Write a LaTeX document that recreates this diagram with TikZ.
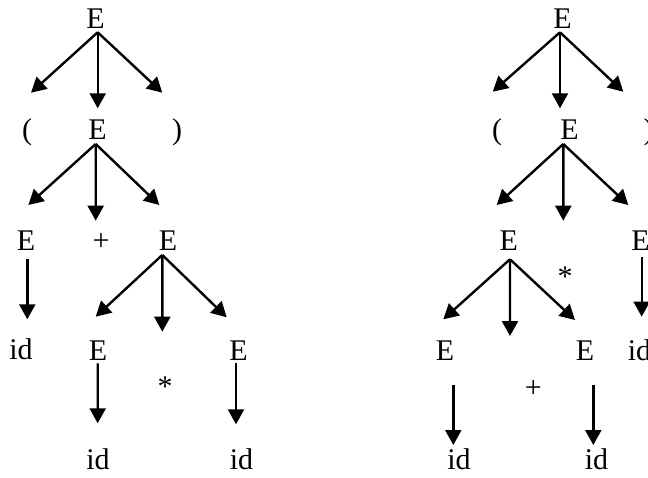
\documentclass[tikz,border=0pt]{standalone}
\usepackage{fontspec}
\setmainfont{Liberation Serif}
\usetikzlibrary{arrows.meta}
\begin{document}
\begin{tikzpicture}[x=0.5pt,y=-0.5pt,
  lbl/.style={anchor=base,inner sep=0pt,font=\fontsize{15}{18}\selectfont},
  arr/.style={-{Triangle[length=7.5pt,width=8pt]},line width=1.2pt}]
\useasboundingbox (0,0) rectangle (648,477);
\clip (0,0) rectangle (648,477);
% ---------------- left tree ----------------
\node[lbl] (L1) at (95.5,28) {E};
\node[lbl] (Lp) at (27,139) {(};
\node[lbl] (L2) at (97.5,139) {E};
\node[lbl] (Lq) at (177,139) {)};
\node[lbl] (L3a) at (26,250) {E};
\node[lbl] (Lplus) at (101,250.5) {+};
\node[lbl] (L3b) at (168,250) {E};
\node[lbl] (L4a) at (21,359.5) {id};
\node[lbl] (L4b) at (98,360) {E};
\node[lbl] (Lstar) at (165,396) {*};
\node[lbl] (L4c) at (238.5,360) {E};
\node[lbl] (L5a) at (98,469.5) {id};
\node[lbl] (L5b) at (241.5,469.5) {id};
\coordinate (t1) at (31,92.7);
\coordinate (t2) at (97.7,108.3);
\coordinate (t3) at (162.3,92.7);
\coordinate (t4) at (28.3,205);
\coordinate (t5) at (95.7,220.7);
\coordinate (t6) at (159.3,205);
\coordinate (t7) at (27.3,319.3);
\coordinate (t8) at (95.7,316.7);
\coordinate (t9) at (162.3,331.7);
\coordinate (t10) at (226.7,317.3);
\coordinate (t11) at (97.7,423.3);
\coordinate (t12) at (236,424.3);
\draw[arr] ([shift={(2.2,4.3)}]L1.base) -- (t1);
\draw[arr] ([shift={(2.2,4.3)}]L1.base) -- (t2);
\draw[arr] ([shift={(2.2,4.3)}]L1.base) -- (t3);
\draw[arr] ([shift={(-1.8,5)}]L2.base) -- (t4);
\draw[arr] ([shift={(-1.8,5)}]L2.base) -- (t5);
\draw[arr] ([shift={(-1.8,5)}]L2.base) -- (t6);
\draw[arr] ([shift={(1.3,9.3)}]L3a.base) -- (t7);
\draw[arr] ([shift={(-5.7,5)}]L3b.base) -- (t8);
\draw[arr] ([shift={(-5.7,5)}]L3b.base) -- (t9);
\draw[arr] ([shift={(-5.7,5)}]L3b.base) -- (t10);
\draw[arr] ([shift={(-0.3,3.3)}]L4b.base) -- (t11);
\draw[arr] ([shift={(-2.5,3.3)}]L4c.base) -- (t12);
% ---------------- right tree ----------------
\node[lbl] (R1) at (562.5,28) {E};
\node[lbl] (Rp) at (497,139) {(};
\node[lbl] (R2) at (569.5,139) {E};
\node[lbl] (Rq) at (648.5,139) {)};
\node[lbl] (R3a) at (508.7,250) {E};
\node[lbl] (Rstar) at (565,286) {*};
\node[lbl] (R3b) at (640.5,250) {E};
\node[lbl] (R4a) at (445,360) {E};
\node[lbl] (Rplus) at (533.3,397.5) {+};
\node[lbl] (R4b) at (585,360) {E};
\node[lbl] (R4c) at (639.5,360) {id};
\node[lbl] (R5a) at (459,469.5) {id};
\node[lbl] (R5b) at (596.5,469.5) {id};
\coordinate (u1) at (492.7,91.7);
\coordinate (u2) at (560,108.3);
\coordinate (u3) at (623.3,91.7);
\coordinate (u4) at (496.7,205);
\coordinate (u5) at (563.3,220.7);
\coordinate (u6) at (628.3,205);
\coordinate (u7) at (443.3,319.3);
\coordinate (u8) at (510,336);
\coordinate (u9) at (575,320);
\coordinate (u10) at (641.7,316.7);
\coordinate (u11) at (453.3,445);
\coordinate (u12) at (593.3,445);
\draw[arr] ([shift={(-2.5,4.3)}]R1.base) -- (u1);
\draw[arr] ([shift={(-2.5,4.3)}]R1.base) -- (u2);
\draw[arr] ([shift={(-2.5,4.3)}]R1.base) -- (u3);
\draw[arr] ([shift={(-6.2,5)}]R2.base) -- (u4);
\draw[arr] ([shift={(-6.2,5)}]R2.base) -- (u5);
\draw[arr] ([shift={(-6.2,5)}]R2.base) -- (u6);
\draw[arr] ([shift={(1.3,9.3)}]R3a.base) -- (u7);
\draw[arr] ([shift={(1.3,9.3)}]R3a.base) -- (u8);
\draw[arr] ([shift={(1.3,9.3)}]R3a.base) -- (u9);
\draw[arr] ([shift={(1.2,6.7)}]R3b.base) -- (u10);
\draw[arr] ([shift={(8.3,25)}]R4a.base) -- (u11);
\draw[arr] ([shift={(8.3,25)}]R4b.base) -- (u12);
\end{tikzpicture}
\end{document}
